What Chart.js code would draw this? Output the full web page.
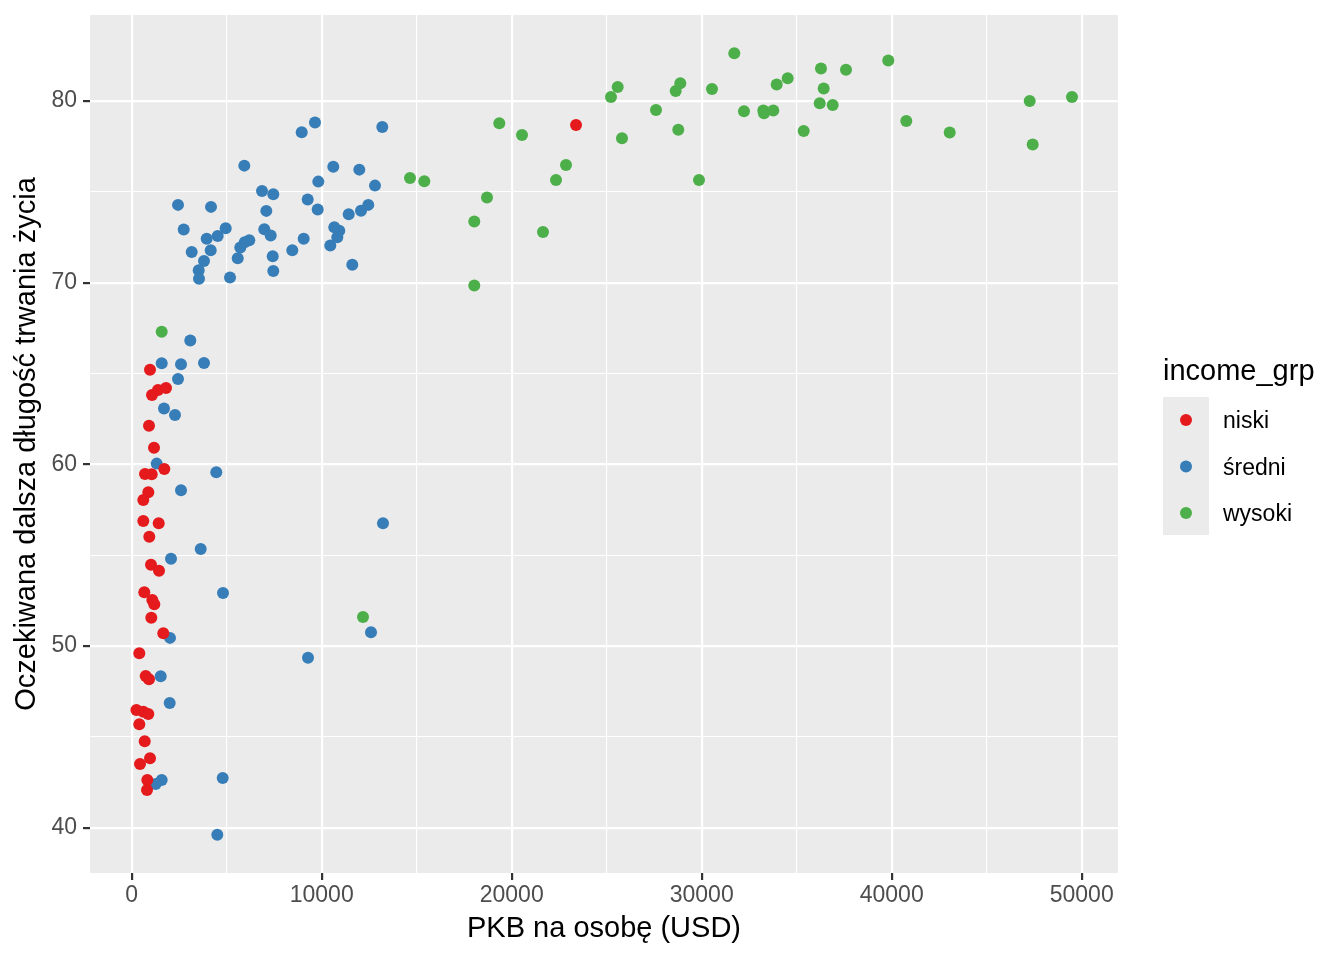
<!DOCTYPE html>
<html>
<head>
<meta charset="utf-8">
<script src="https://cdn.jsdelivr.net/npm/chart.js@4/dist/chart.umd.min.js"></script>
<style>
  html, body { margin: 0; padding: 0; background: #fff; }
  #wrap { width: 1344px; height: 960px; }
</style>
</head>
<body>
<div id="wrap"><canvas id="scatter" width="1344" height="960"></canvas></div>
<script>
// values: GDP per person (USD) and life expectancy
const niskiX = [963, 1068, 1384, 1805, 910, 1174, 1716, 700, 1053, 874, 610, 610, 1421, 926, 1016, 1437,
  663, 1084, 1189, 1032, 1663, 400, 737, 910, 250, 610, 874, 400, 684, 963, 437, 821, 805, 23386];
const niskiY = [65.20, 63.82, 64.09, 64.20, 62.12, 60.92, 59.75, 59.47, 59.45, 58.46, 58.04, 56.88, 56.76, 56.02, 54.48, 54.15,
  52.96, 52.54, 52.30, 51.56, 50.70, 49.60, 48.35, 48.17, 46.48, 46.39, 46.26, 45.70, 44.76, 43.82, 43.51, 42.63, 42.08, 78.68];

const sredniX = [3084, 1579, 2595, 3805, 2437, 1700, 2279, 1316, 4452, 2595, 13226, 3631, 2068, 4805, 2016, 12595,
  9279, 1526, 2000, 4789, 1579, 1263, 4505,
  8947, 9647, 13189, 5926, 10610, 11979, 9821, 12805, 6858, 7452, 2437, 4174, 9263, 9789, 7084, 12452, 12068, 11421,
  2737, 4947, 6979, 7316, 10663, 10926, 10821, 3947, 4526, 3158, 4158, 5716, 6189, 5947, 9052, 8452, 10452,
  3805, 5579, 7421, 3526, 3542, 5174, 7452, 11610];
const sredniY = [66.81, 65.56, 65.51, 65.58, 64.70, 63.07, 62.72, 60.04, 59.56, 58.57, 56.76, 55.34, 54.81, 52.92, 50.45, 50.76,
  49.36, 48.34, 46.87, 42.74, 42.63, 42.41, 39.62,
  78.28, 78.81, 78.57, 76.44, 76.38, 76.22, 75.56, 75.34, 75.05, 74.87, 74.28, 74.17, 74.57, 74.02, 73.95, 74.28, 73.96, 73.76,
  72.92, 72.99, 72.94, 72.59, 73.05, 72.85, 72.50, 72.41, 72.57, 71.69, 71.78, 71.93, 72.33, 72.22, 72.41, 71.78, 72.04,
  71.19, 71.34, 71.45, 70.68, 70.22, 70.28, 70.64, 70.99];

const wysokiX = [1579, 12173, 14647, 15400, 18700, 18031, 18031, 19347, 20542, 21647, 22332, 22858,
  25579, 25226, 27595, 25805, 28874, 28632, 28768, 29858, 30542, 31716, 32226, 33242, 33279, 33768, 33947, 34526,
  35368, 36279, 36421, 36211, 36895, 37595, 39821, 40768, 43053, 47263, 47421, 49489];
const wysokiY = [67.30, 51.60, 75.76, 75.58, 74.68, 73.36, 69.84, 78.77, 78.13, 72.79, 75.65, 76.48,
  80.77, 80.22, 79.50, 77.95, 80.97, 80.55, 78.42, 75.65, 80.66, 82.62, 79.43, 79.47, 79.32, 79.47, 80.90, 81.25,
  78.35, 81.78, 80.68, 79.87, 79.78, 81.72, 82.22, 78.90, 78.26, 80.00, 77.60, 80.22];

const groups = ['niski', 'średni', 'wysoki'];
const groupColors = ['#E41A1C', '#377EB8', '#4DAF4A'];

const xTicks = [0, 5000, 10000, 15000, 20000, 25000, 30000, 35000, 40000, 45000, 50000];
const yTicks = [40, 45, 50, 55, 60, 65, 70, 75, 80];

const FONT = "'Liberation Sans', Arial, sans-serif";

function pts(xs, ys) {
  return xs.map((x, i) => ({ x: x, y: ys[i] }));
}

// grey panel behind the points
const panelBg = {
  id: 'panelBg',
  beforeDraw(chart) {
    const a = chart.chartArea;
    const ctx = chart.ctx;
    ctx.save();
    ctx.fillStyle = '#EBEBEB';
    ctx.fillRect(a.left, a.top, a.right - a.left, a.bottom - a.top);
    ctx.restore();
  }
};

// ggplot-like legend on the right
const sideLegend = {
  id: 'sideLegend',
  afterDraw(chart) {
    const ctx = chart.ctx;
    ctx.save();
    ctx.fillStyle = '#000';
    ctx.font = '29px ' + FONT;
    ctx.textBaseline = 'alphabetic';
    ctx.textAlign = 'left';
    ctx.fillText('income_grp', 1163, 380);

    ctx.fillStyle = '#EBEBEB';
    ctx.fillRect(1163, 397, 46, 138);

    chart.data.datasets.forEach((ds, i) => {
      const cy = 420 + i * 46.5;
      ctx.fillStyle = ds.backgroundColor;
      ctx.beginPath();
      ctx.arc(1186, cy, 6, 0, Math.PI * 2);
      ctx.fill();
      ctx.fillStyle = '#000';
      ctx.font = '23px ' + FONT;
      ctx.fillText(ds.label, 1223, cy + 8);
    });
    ctx.restore();
  }
};

const isMajorX = v => v % 10000 === 0;
const isMajorY = v => v % 10 === 0;

new Chart(document.getElementById('scatter'), {
  type: 'scatter',
  data: {
    datasets: [
      { label: groups[0], data: pts(niskiX, niskiY), backgroundColor: groupColors[0] },
      { label: groups[1], data: pts(sredniX, sredniY), backgroundColor: groupColors[1] },
      { label: groups[2], data: pts(wysokiX, wysokiY), backgroundColor: groupColors[2] }
    ]
  },
  options: {
    responsive: false,
    animation: false,
    layout: { padding: { left: 0, top: 15, right: 226, bottom: 0 } },
    elements: { point: { radius: 6, borderWidth: 0, hoverRadius: 6 } },
    plugins: {
      legend: { display: false },
      tooltip: { enabled: false }
    },
    scales: {
      x: {
        type: 'linear',
        min: -2195,
        max: 51911,
        afterBuildTicks: s => { s.ticks = xTicks.map(v => ({ value: v })); },
        afterFit: s => { s.height = 87; s.paddingLeft = 0; s.paddingRight = 0; },
        border: { display: false },
        grid: {
          color: '#FFFFFF',
          lineWidth: c => (c.tick && isMajorX(c.tick.value) ? 2.2 : 1.1),
          tickColor: c => (c.tick && isMajorX(c.tick.value) ? '#333333' : 'rgba(0,0,0,0)'),
          tickWidth: 2.2,
          tickLength: 7
        },
        ticks: {
          color: '#4D4D4D',
          font: { family: FONT, size: 23 },
          padding: 2,
          maxRotation: 0,
          autoSkip: false,
          callback: v => (isMajorX(v) ? String(v) : '')
        },
        title: {
          display: true,
          text: 'PKB na osobę (USD)',
          color: '#000',
          font: { family: FONT, size: 29, lineHeight: 1.2 },
          padding: { top: 0, bottom: 14 }
        }
      },
      y: {
        type: 'linear',
        min: 37.51,
        max: 84.73,
        afterBuildTicks: s => { s.ticks = yTicks.map(v => ({ value: v })); },
        afterFit: s => { s.width = 90; s.paddingTop = 0; s.paddingBottom = 0; },
        border: { display: false },
        grid: {
          color: '#FFFFFF',
          lineWidth: c => (c.tick && isMajorY(c.tick.value) ? 2.2 : 1.1),
          tickColor: c => (c.tick && isMajorY(c.tick.value) ? '#333333' : 'rgba(0,0,0,0)'),
          tickWidth: 2.2,
          tickLength: 7
        },
        ticks: {
          color: '#4D4D4D',
          font: { family: FONT, size: 23 },
          padding: 6,
          autoSkip: false,
          callback: v => (isMajorY(v) ? String(v) : '')
        },
        title: {
          display: true,
          text: 'Oczekiwana dalsza długość trwania życia',
          color: '#000',
          font: { family: FONT, size: 29, lineHeight: 1.2 },
          padding: { top: 10, bottom: 0 }
        }
      }
    }
  },
  plugins: [panelBg, sideLegend]
});
</script>
</body>
</html>
